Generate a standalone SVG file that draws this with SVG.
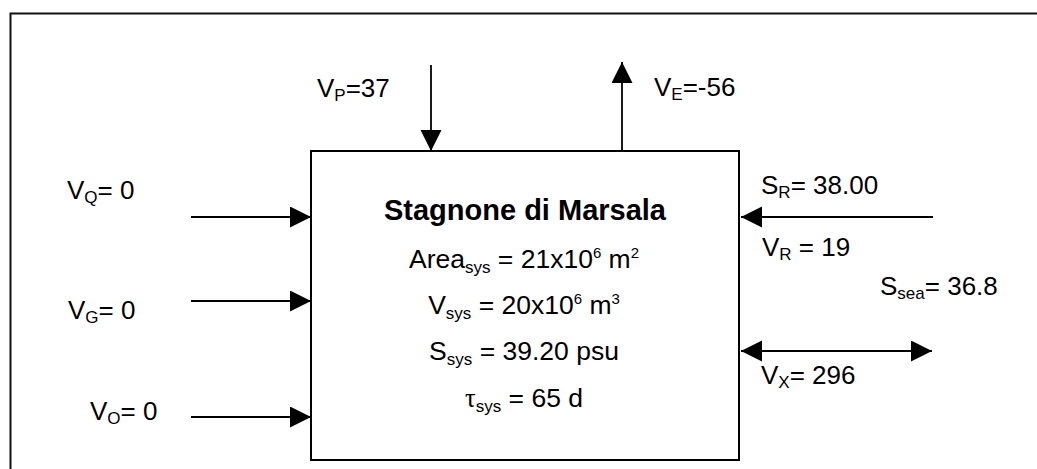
<svg xmlns="http://www.w3.org/2000/svg" width="1037" height="469" viewBox="0 0 1037 469">
<style>
text{font-family:"Liberation Sans",Arial,sans-serif;fill:#000;}
.lbl{font-size:26px;}
.box{font-size:26.5px;}
.ttl{font-size:29px;font-weight:bold;}
.sub{font-size:17px;}
.sup{font-size:15px;}
.conn line{stroke:#000;stroke-width:1.8;}
</style>
<defs>
<marker id="ah" markerUnits="userSpaceOnUse" markerWidth="22" markerHeight="22" refX="21" refY="10.5" orient="auto-start-reverse" viewBox="0 0 22 22">
<path d="M0,0 L21,10.5 L0,21 z" fill="#000"/>
</marker>
</defs>
<rect x="0" y="0" width="1037" height="469" fill="#fff"/>
<g id="frame"><rect x="10.5" y="13.5" width="1040" height="470" fill="none" stroke="#111" stroke-width="2"/></g>
<g id="system">
<rect x="311" y="151" width="428" height="309" fill="#fff" stroke="#000" stroke-width="2"/>
<text class="ttl" x="525" y="220" text-anchor="middle">Stagnone di Marsala</text>
<text class="box" x="524" y="268" text-anchor="middle">Area<tspan class="sub" dy="5">sys</tspan><tspan dy="-5"> = 21x10</tspan><tspan class="sup" dy="-10">6</tspan><tspan dy="10"> m</tspan><tspan class="sup" dy="-10">2</tspan></text>
<text class="box" x="524" y="314" text-anchor="middle">V<tspan class="sub" dy="5">sys</tspan><tspan dy="-5"> = 20x10</tspan><tspan class="sup" dy="-10">6</tspan><tspan dy="10"> m</tspan><tspan class="sup" dy="-10">3</tspan></text>
<text class="box" x="524" y="360" text-anchor="middle">S<tspan class="sub" dy="5">sys</tspan><tspan dy="-5"> = 39.20 psu</tspan></text>
<text class="box" x="524" y="407" text-anchor="middle"><tspan style="font-family:'Liberation Serif',serif">τ</tspan><tspan class="sub" dy="5">sys</tspan><tspan dy="-5"> = 65 d</tspan></text>
</g>
<g class="conn" id="connectors">
<line x1="431" y1="65" x2="431" y2="151" marker-end="url(#ah)"/>
<line x1="622" y1="151" x2="622" y2="62" marker-end="url(#ah)"/>
<line x1="191" y1="217" x2="311" y2="217" marker-end="url(#ah)"/>
<line x1="191" y1="301" x2="311" y2="301" marker-end="url(#ah)"/>
<line x1="191" y1="417" x2="311" y2="417" marker-end="url(#ah)"/>
<line x1="933" y1="217" x2="741" y2="217" marker-end="url(#ah)"/>
<line x1="741" y1="351" x2="932" y2="351" marker-start="url(#ah)" marker-end="url(#ah)"/>
</g>
<g id="vp"><text class="lbl" x="317" y="97">V<tspan class="sub" dy="4">P</tspan><tspan dy="-4">=37</tspan></text></g>
<g id="ve"><text class="lbl" x="654" y="96">V<tspan class="sub" dy="4">E</tspan><tspan dy="-4">=-56</tspan></text></g>
<g id="vq"><text class="lbl" x="67" y="199">V<tspan class="sub" dy="4">Q</tspan><tspan dy="-4">= 0</tspan></text></g>
<g id="vg"><text class="lbl" x="68" y="319">V<tspan class="sub" dy="4">G</tspan><tspan dy="-4">= 0</tspan></text></g>
<g id="vo"><text class="lbl" x="90" y="420">V<tspan class="sub" dy="4">O</tspan><tspan dy="-4">= 0</tspan></text></g>
<g id="sr"><text class="lbl" x="761" y="194">S<tspan class="sub" dy="4">R</tspan><tspan dy="-4">= 38.00</tspan></text></g>
<g id="vr"><text class="lbl" x="762" y="256">V<tspan class="sub" dy="4">R</tspan><tspan dy="-4"> = 19</tspan></text></g>
<g id="ssea"><text class="lbl" x="880" y="295">S<tspan class="sub" dy="4">sea</tspan><tspan dy="-4">= 36.8</tspan></text></g>
<g id="vx"><text class="lbl" x="761" y="384">V<tspan class="sub" dy="4">X</tspan><tspan dy="-4">= 296</tspan></text></g>
</svg>
